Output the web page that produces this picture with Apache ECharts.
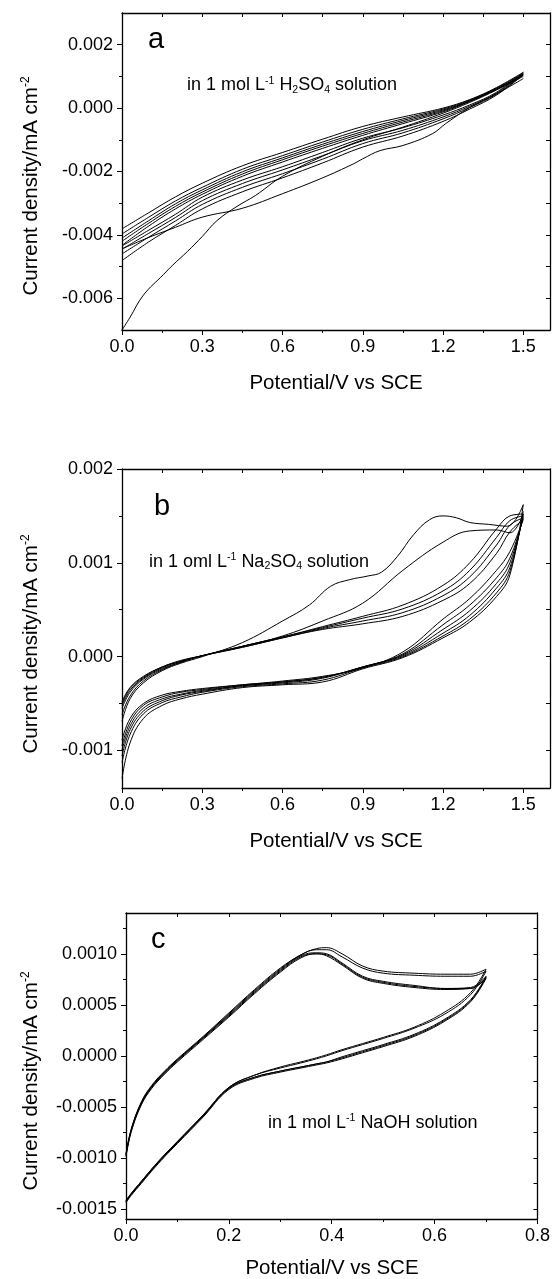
<!DOCTYPE html>
<html><head><meta charset="utf-8">
<script src="https://cdn.jsdelivr.net/npm/echarts@6/dist/echarts.min.js"></script>
<style>html,body{margin:0;padding:0;background:#fff}#c{width:553px;height:1279px}</style>
</head><body><div id="c"></div>
<script>
// ---------- Panel a : 1 mol/L H2SO4 ----------
const PA = [0, 0.1, 0.2, 0.3, 0.45, 0.6, 0.75, 0.9, 1.05, 1.2, 1.3, 1.4, 1.5];
const A_F1 = [-0.00381, -0.00330, -0.00280, -0.00237, -0.00182, -0.00140, -0.00098, -0.00058, -0.00028, 0.00000, 0.00027, 0.00065, 0.00113];
const A_F2 = [-0.00397, -0.00344, -0.00293, -0.00250, -0.00193, -0.00150, -0.00107, -0.00067, -0.00034, -0.00003, 0.00025, 0.00063, 0.00110];
const A_F3 = [-0.00410, -0.00355, -0.00302, -0.00258, -0.00201, -0.00157, -0.00114, -0.00074, -0.00039, -0.00006, 0.00023, 0.00061, 0.00107];
const A_F4 = [-0.00420, -0.00363, -0.00310, -0.00265, -0.00208, -0.00163, -0.00120, -0.00080, -0.00044, -0.00009, 0.00022, 0.00060, 0.00105];
const A_F5 = [-0.00433, -0.00372, -0.00318, -0.00272, -0.00215, -0.00170, -0.00127, -0.00086, -0.00049, -0.00012, 0.00021, 0.00059, 0.00103];
const A_R1 = [-0.00435, -0.00385, -0.00335, -0.00281, -0.00227, -0.00185, -0.00140, -0.00095, -0.00062, -0.00022, 0.00010, 0.00050, 0.00113];
const A_R2 = [-0.00445, -0.00395, -0.00345, -0.00292, -0.00238, -0.00195, -0.00150, -0.00103, -0.00070, -0.00028, 0.00006, 0.00047, 0.00110];
const A_R3 = [-0.00460, -0.00407, -0.00356, -0.00304, -0.00250, -0.00207, -0.00161, -0.00112, -0.00078, -0.00034, 0.00002, 0.00044, 0.00107];
const A_R4 = [-0.00481, -0.00422, -0.00370, -0.00318, -0.00264, -0.00220, -0.00173, -0.00123, -0.00088, -0.00042, -0.00003, 0.00041, 0.00105];
const A1_FWD_V = [0, 0.03, 0.08, 0.155, 0.19, 0.245, 0.3, 0.355, 0.43, 0.5, 0.6, 0.75, 0.9, 1.05, 1.2, 1.3, 1.4, 1.5];
const A1_FWD_J = [-0.00700, -0.00660, -0.00590, -0.00525, -0.00495, -0.00452, -0.00405, -0.00355, -0.00310, -0.00275, -0.00215, -0.00152, -0.00100, -0.00060, -0.00016, 0.00018, 0.00057, 0.00100];
const A1_REV_V = [0, 0.1, 0.2, 0.3, 0.45, 0.6, 0.75, 0.865, 0.9, 0.965, 1.05, 1.16, 1.21, 1.3, 1.4, 1.5];
const A1_REV_J = [-0.00444, -0.00408, -0.00376, -0.00344, -0.00316, -0.00270, -0.00220, -0.00176, -0.00160, -0.00134, -0.00118, -0.00081, -0.00049, 0.00002, 0.00045, 0.00093];

// ---------- Panel b : Na2SO4 ----------
const PB = [0, 0.03, 0.08, 0.15, 0.22, 0.3, 0.45, 0.6, 0.75, 0.9, 1.05, 1.2, 1.3, 1.4, 1.45, 1.5];
const B_U1_V = [0, 0.03, 0.08, 0.15, 0.22, 0.3, 0.45, 0.6, 0.7, 0.78, 0.85, 0.92, 0.97, 1.03, 1.09, 1.15, 1.2, 1.25, 1.3, 1.37, 1.44, 1.5];
const B_U1_J = [-0.00069, -0.00045, -0.00028, -0.00015, -0.00007, 0.00000, 0.00015, 0.00038, 0.00055, 0.00075, 0.00082, 0.00086, 0.00090, 0.00107, 0.00130, 0.00146, 0.00150, 0.00148, 0.00143, 0.00141, 0.00139, 0.00162];
const B_U2 = [-0.00062, -0.00042, -0.00026, -0.00014, -0.00006, 0.00001, 0.00011, 0.00022, 0.00038, 0.00057, 0.00092, 0.00122, 0.00134, 0.00135, 0.00132, 0.00152];
const B_U3 = [-0.00055, -0.00038, -0.00024, -0.00013, -0.00006, 0.00001, 0.00011, 0.00021, 0.00032, 0.00043, 0.00055, 0.00076, 0.00100, 0.00136, 0.00150, 0.00152];
const B_U4 = [-0.00052, -0.00036, -0.00023, -0.00012, -0.00005, 0.00001, 0.00011, 0.00021, 0.00031, 0.00041, 0.00051, 0.00070, 0.00092, 0.00127, 0.00145, 0.00150];
const B_U5 = [-0.00050, -0.00034, -0.00022, -0.00011, -0.00005, 0.00001, 0.00010, 0.00020, 0.00030, 0.00038, 0.00047, 0.00065, 0.00085, 0.00119, 0.00140, 0.00148];
const B_U6 = [-0.00048, -0.00033, -0.00021, -0.00011, -0.00004, 0.00001, 0.00010, 0.00020, 0.00029, 0.00035, 0.00043, 0.00060, 0.00078, 0.00110, 0.00133, 0.00146];
const B_L1 = [-0.00089, -0.00066, -0.00050, -0.00041, -0.00037, -0.00034, -0.00030, -0.00026, -0.00021, -0.00012, 0.00005, 0.00040, 0.00062, 0.00092, 0.00112, 0.00146];
const B_L2 = [-0.00095, -0.00070, -0.00052, -0.00043, -0.00038, -0.00035, -0.00030, -0.00027, -0.00022, -0.00011, 0.00003, 0.00034, 0.00055, 0.00084, 0.00105, 0.00148];
const B_L3 = [-0.00100, -0.00074, -0.00055, -0.00045, -0.00040, -0.00036, -0.00031, -0.00027, -0.00022, -0.00011, 0.00002, 0.00029, 0.00049, 0.00078, 0.00100, 0.00150];
const B_L4 = [-0.00106, -0.00078, -0.00058, -0.00047, -0.00041, -0.00037, -0.00031, -0.00028, -0.00023, -0.00011, 0.00001, 0.00025, 0.00044, 0.00073, 0.00095, 0.00152];
const B_L5 = [-0.00113, -0.00083, -0.00061, -0.00049, -0.00043, -0.00038, -0.00032, -0.00029, -0.00025, -0.00012, 0.00000, 0.00022, 0.00040, 0.00068, 0.00091, 0.00155];
const B_L6 = [-0.00130, -0.00092, -0.00066, -0.00052, -0.00045, -0.00040, -0.00033, -0.00030, -0.00027, -0.00013, -0.00001, 0.00020, 0.00037, 0.00064, 0.00087, 0.00162];

// ---------- Panel c : NaOH ----------
const PC = [0, 0.01, 0.03, 0.05, 0.075, 0.1, 0.15, 0.2, 0.25, 0.3, 0.34, 0.37, 0.39, 0.42, 0.46, 0.5, 0.56, 0.62, 0.67, 0.7];
const C_U1 = [-0.00096, -0.00072, -0.00045, -0.00029, -0.00015, -0.00003, 0.00019, 0.00042, 0.00065, 0.00086, 0.00099, 0.00105, 0.00106, 0.00100, 0.00088, 0.00083, 0.00081, 0.00080, 0.00080, 0.00085];
const C_U2 = [-0.00097, -0.00073, -0.00046, -0.00030, -0.00016, -0.00004, 0.00018, 0.00041, 0.00064, 0.00085, 0.00099, 0.00104, 0.00104, 0.00097, 0.00086, 0.00081, 0.00079, 0.00078, 0.00078, 0.00083];
const C_U3 = [-0.00097, -0.00073, -0.00046, -0.00030, -0.00016, -0.00004, 0.00018, 0.00040, 0.00063, 0.00084, 0.00098, 0.00101, 0.00100, 0.00091, 0.00078, 0.00073, 0.00069, 0.00066, 0.00067, 0.00078];
const C_U4 = [-0.00098, -0.00074, -0.00047, -0.00031, -0.00017, -0.00005, 0.00017, 0.00039, 0.00062, 0.00083, 0.00097, 0.00100, 0.00099, 0.00090, 0.00077, 0.00072, 0.00068, 0.00066, 0.00066, 0.00077];
const C_U5 = [-0.00099, -0.00075, -0.00048, -0.00032, -0.00018, -0.00006, 0.00016, 0.00038, 0.00061, 0.00082, 0.00096, 0.00100, 0.00098, 0.00089, 0.00076, 0.00071, 0.00067, 0.00065, 0.00066, 0.00076];
const C_L1 = [-0.00142, -0.00135, -0.00123, -0.00111, -0.00097, -0.00084, -0.00058, -0.00031, -0.00019, -0.00011, -0.00006, -0.00002, 0.00001, 0.00006, 0.00012, 0.00018, 0.00028, 0.00043, 0.00062, 0.00085];
const C_L2 = [-0.00142, -0.00135, -0.00123, -0.00111, -0.00097, -0.00084, -0.00058, -0.00031, -0.00019, -0.00012, -0.00007, -0.00003, 0.00000, 0.00005, 0.00011, 0.00017, 0.00027, 0.00041, 0.00060, 0.00083];
const C_L3 = [-0.00143, -0.00136, -0.00124, -0.00112, -0.00098, -0.00085, -0.00059, -0.00032, -0.00021, -0.00015, -0.00011, -0.00008, -0.00006, -0.00001, 0.00005, 0.00011, 0.00021, 0.00036, 0.00055, 0.00078];
const C_L4 = [-0.00143, -0.00136, -0.00124, -0.00112, -0.00098, -0.00085, -0.00059, -0.00032, -0.00021, -0.00015, -0.00011, -0.00008, -0.00006, -0.00002, 0.00004, 0.00010, 0.00020, 0.00035, 0.00054, 0.00077];
const C_L5 = [-0.00144, -0.00137, -0.00125, -0.00113, -0.00099, -0.00086, -0.00060, -0.00033, -0.00022, -0.00016, -0.00012, -0.00009, -0.00007, -0.00003, 0.00003, 0.00009, 0.00019, 0.00034, 0.00053, 0.00076];

// ---------- ticks ----------
const X_TICKS_AB = [0, 0.3, 0.6, 0.9, 1.2, 1.5];
const X_MINOR_AB = [0.15, 0.45, 0.75, 1.05, 1.35];
const Y_TICKS_A = [-0.006, -0.004, -0.002, 0, 0.002];
const Y_MINOR_A = [-0.005, -0.003, -0.001, 0.001];
const Y_TICKS_B = [-0.001, 0, 0.001, 0.002];
const Y_MINOR_B = [-0.0005, 0.0005, 0.0015];
const X_TICKS_C = [0, 0.2, 0.4, 0.6, 0.8];
const X_MINOR_C = [0.1, 0.3, 0.5, 0.7];
const Y_TICKS_C = [-0.0015, -0.001, -0.0005, 0, 0.0005, 0.001];
const Y_MINOR_C = [-0.00125, -0.00075, -0.00025, 0.00025, 0.00075, 0.00125];

// ---------- texts ----------
const X_TITLE = 'Potential/V vs SCE';
const Y_TITLE = 'Current density/mA cm';
const PANEL_LETTERS = ['a', 'b', 'c'];

const FONT = '"Liberation Sans", Arial, Helvetica, sans-serif';
const K = '#000';

function pairs(xs, ys) { return xs.map((x, i) => [x, ys[i]]); }

function axesFor(dim, grid, min, max, ticks, minor, dec) {
  const mainPos = dim === 'x' ? 'bottom' : 'left';
  const mirPos = dim === 'x' ? 'top' : 'right';
  const base = { type: 'value', gridIndex: grid, min: min, max: max, splitLine: { show: false } };
  return [
    Object.assign({}, base, {
      position: mainPos,
      axisLine: { show: true, onZero: false, lineStyle: { color: K, width: 1.3 } },
      axisTick: { show: true, customValues: ticks, length: 5, lineStyle: { color: K, width: 1 } },
      axisLabel: { show: true, customValues: ticks, formatter: v => Number(v).toFixed(dec),
        color: K, fontSize: 18, fontFamily: FONT, margin: dim === 'x' ? 8 : 9 }
    }),
    Object.assign({}, base, {
      position: mainPos,
      axisLine: { show: false, onZero: false },
      axisTick: { show: true, customValues: minor, length: 3, lineStyle: { color: K, width: 1 } },
      axisLabel: { show: false }
    }),
    Object.assign({}, base, {
      position: mirPos,
      axisLine: { show: true, onZero: false, lineStyle: { color: K, width: 1.3 } },
      axisTick: { show: true, inside: true, customValues: ticks.concat(minor), length: 4, lineStyle: { color: K, width: 1 } },
      axisLabel: { show: false }
    })
  ];
}

const grids = [
  { left: 122, top: 13, width: 428, height: 317 },
  { left: 122, top: 469, width: 428, height: 319 },
  { left: 126, top: 913, width: 412, height: 306 }
];

const xAxes = [].concat(
  axesFor('x', 0, 0, 1.6, X_TICKS_AB, X_MINOR_AB, 1),
  axesFor('x', 1, 0, 1.6, X_TICKS_AB, X_MINOR_AB, 1),
  axesFor('x', 2, 0, 0.8, X_TICKS_C, X_MINOR_C, 1)
);
const yAxes = [].concat(
  axesFor('y', 0, -0.007, 0.003, Y_TICKS_A, Y_MINOR_A, 3),
  axesFor('y', 1, -0.0014, 0.002, Y_TICKS_B, Y_MINOR_B, 3),
  axesFor('y', 2, -0.0016, 0.0014, Y_TICKS_C, Y_MINOR_C, 4)
);

const curves = [
  [0, PA, A_F1], [0, PA, A_F2], [0, PA, A_F3], [0, PA, A_F4], [0, PA, A_F5],
  [0, PA, A_R1], [0, PA, A_R2], [0, PA, A_R3], [0, PA, A_R4],
  [0, A1_FWD_V, A1_FWD_J], [0, A1_REV_V, A1_REV_J],
  [1, B_U1_V, B_U1_J], [1, PB, B_U2], [1, PB, B_U3], [1, PB, B_U4], [1, PB, B_U5], [1, PB, B_U6],
  [1, PB, B_L1], [1, PB, B_L2], [1, PB, B_L3], [1, PB, B_L4], [1, PB, B_L5], [1, PB, B_L6],
  [2, PC, C_U1], [2, PC, C_U2], [2, PC, C_U3], [2, PC, C_U4], [2, PC, C_U5],
  [2, PC, C_L1], [2, PC, C_L2], [2, PC, C_L3], [2, PC, C_L4], [2, PC, C_L5]
];

const series = curves.map(c => ({
  type: 'line', xAxisIndex: c[0] * 3, yAxisIndex: c[0] * 3,
  data: pairs(c[1], c[2]), showSymbol: false, symbol: 'none',
  smooth: 0.4, silent: true, clip: true,
  lineStyle: { color: K, width: 1 }
}));

const RICH = {
  n: { fontSize: 18, fontFamily: FONT, fill: K, lineHeight: 20 },
  p: { fontSize: 10.5, fontFamily: FONT, fill: K, verticalAlign: 'top', lineHeight: 10.5 },
  b: { fontSize: 10.5, fontFamily: FONT, fill: K, verticalAlign: 'bottom', lineHeight: 10.5 }
};
const YRICH = {
  m: { fontSize: 20.5, fontFamily: FONT, fill: K, lineHeight: 22 },
  s: { fontSize: 12, fontFamily: FONT, fill: K, verticalAlign: 'top', lineHeight: 12 }
};

function txt(x, y, text, rich) {
  return { type: 'text', x: x, y: y, silent: true,
    style: { text: text, rich: rich, fontFamily: FONT, fill: K, align: 'left', verticalAlign: 'middle' } };
}
function letter(x, y, t) {
  return { type: 'text', x: x, y: y, silent: true,
    style: { text: t, fontSize: 29, fontFamily: FONT, fill: K, align: 'left', verticalAlign: 'middle' } };
}
function xTitle(x, y) {
  return { type: 'text', x: x, y: y, silent: true,
    style: { text: X_TITLE, fontSize: 20.5, fontFamily: FONT, fill: K, align: 'center', verticalAlign: 'middle' } };
}
function yTitle(x, y) {
  return { type: 'text', x: x, y: y, rotation: Math.PI / 2, silent: true,
    style: { text: '{m|' + Y_TITLE + '}{s|-2}', rich: YRICH, fontFamily: FONT, fill: K, align: 'center', verticalAlign: 'middle' } };
}

const graphic = [
  letter(148, 40, PANEL_LETTERS[0]),
  letter(154, 507, PANEL_LETTERS[1]),
  letter(151, 940, PANEL_LETTERS[2]),
  txt(187, 85.5, '{n|in 1 mol L}{p|-1}{n| H}{b|2}{n|SO}{b|4}{n| solution}', RICH),
  txt(149, 562, '{n|in 1 oml L}{p|-1}{n| Na}{b|2}{n|SO}{b|4}{n| solution}', RICH),
  txt(268, 1123, '{n|in 1 mol L}{p|-1}{n| NaOH solution}', RICH),
  xTitle(336, 383), xTitle(336, 841), xTitle(332, 1268),
  yTitle(31, 186), yTitle(31, 644), yTitle(31, 1081)
];

const chart = echarts.init(document.getElementById('c'), null, { renderer: 'canvas' });
chart.setOption({
  animation: false,
  backgroundColor: '#fff',
  grid: grids,
  xAxis: xAxes,
  yAxis: yAxes,
  series: series,
  graphic: graphic
});
</script></body></html>
